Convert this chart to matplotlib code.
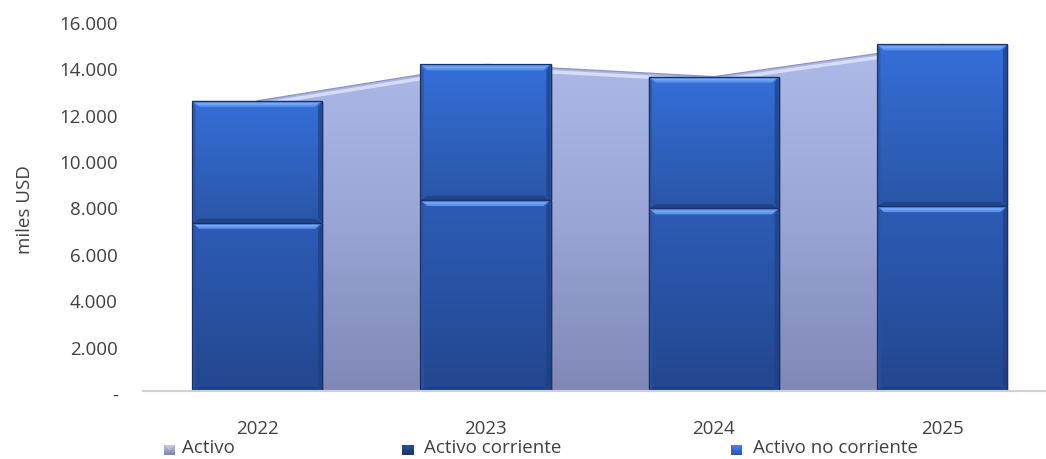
import matplotlib
matplotlib.use("Agg")
import matplotlib.pyplot as plt
import matplotlib.transforms as mtransforms
import numpy as np
from matplotlib.patches import Rectangle, Polygon
from matplotlib.colors import LinearSegmentedColormap

# ---- data ----
years = ["2022", "2023", "2024", "2025"]
activo = [12510, 14080, 13550, 14940]
activo_corriente = [7250, 8230, 7870, 7970]
activo_no_corriente = [5260, 5850, 5680, 6970]
yticks = [0, 2000, 4000, 6000, 8000, 10000, 12000, 14000, 16000]
ytick_labels = ["-", "2.000", "4.000", "6.000", "8.000", "10.000", "12.000", "14.000", "16.000"]
legend_labels = ["Activo", "Activo corriente", "Activo no corriente"]
ylabel = "miles USD"

plt.rcParams['font.family'] = ['Open Sans', 'DejaVu Sans']
TXT = "#404040"
FS = 13.5

W, H = 1046, 459
fig = plt.figure(figsize=(W / 100, H / 100), dpi=100)
ax = fig.add_axes([143 / W, (H - 391) / H, 903 / W, (391 - 19.8) / H])
ax.set_xlim(-0.5, 3.455)
ax.set_ylim(0, 16000)

x = np.arange(len(years))
px_x = (3.455 + 0.5) / 903.0
px_y = 16000 / (391 - 19.8)

# ---- area (Activo) with gradient ----
area_cmap = LinearSegmentedColormap.from_list("area", ["#8088b6", "#9aa6d6", "#aebbe9"])
poly = ax.fill_between(x, 0, activo, color="none", lw=0, zorder=1)
grad = np.linspace(0, 1, 256).reshape(-1, 1)
im = ax.imshow(grad, extent=[x[0], x[-1], 0, max(activo)], origin="lower",
               cmap=area_cmap, aspect="auto", zorder=1, vmin=0, vmax=1)
im.set_clip_path(poly.get_paths()[0], transform=ax.transData)
ax.plot(x, np.array(activo) - 4 * px_y, color="#e8eeff", lw=2.5, alpha=0.7, zorder=1.5,
        solid_capstyle="butt")
ax.plot(x, activo, color="#9095b8", lw=0.9, zorder=1.6)

# ---- bars ----
width = 0.57
seg_cmap_bottom = LinearSegmentedColormap.from_list("b", ["#23478f", "#2d5cb6"])
seg_cmap_top = LinearSegmentedColormap.from_list("t", ["#2a56a8", "#356fd8"])


def draw_segment(xc, y0, y1, cmap):
    x0, x1 = xc - width / 2, xc + width / 2
    sh = Rectangle((x0 + 2 * px_x, y0), width, (y1 - y0) - 1 * px_y,
                   facecolor="#000000", alpha=0.18, lw=0, zorder=2)
    ax.add_patch(sh)
    rect = Rectangle((x0, y0), width, y1 - y0, facecolor="none",
                     edgecolor="#1b3266", lw=0.9, zorder=4)
    ax.add_patch(rect)
    img = ax.imshow(grad, extent=[x0, x1, y0, y1], origin="lower", cmap=cmap,
                    aspect="auto", zorder=3, vmin=0, vmax=1)
    img.set_clip_path(rect)
    bx, by = 7 * px_x, 6 * px_y
    top = Polygon([(x0, y1), (x1, y1), (x1 - bx, y1 - by), (x0 + bx, y1 - by)],
                  closed=True, facecolor="#5d92ec", edgecolor="none", zorder=3.5)
    ax.add_patch(top)
    hl = Polygon([(x0 + bx * 0.5, y1 - by * 0.35), (x1 - bx * 0.5, y1 - by * 0.35),
                  (x1 - bx * 0.8, y1 - by * 0.65), (x0 + bx * 0.8, y1 - by * 0.65)],
                 closed=True, facecolor="#7fb0ff", edgecolor="none", alpha=0.7, zorder=3.6)
    ax.add_patch(hl)
    bot = Polygon([(x0, y0), (x1, y0), (x1 - bx, y0 + by * 0.7), (x0 + bx, y0 + by * 0.7)],
                  closed=True, facecolor="#1f3f80", edgecolor="none", alpha=0.8, zorder=3.5)
    ax.add_patch(bot)
    right = Polygon([(x1, y0), (x1, y1), (x1 - bx * 0.6, y1 - by), (x1 - bx * 0.6, y0 + by * 0.7)],
                    closed=True, facecolor="#1f3f80", edgecolor="none", alpha=0.7, zorder=3.5)
    ax.add_patch(right)
    left = Polygon([(x0, y0), (x0, y1), (x0 + bx * 0.5, y1 - by), (x0 + bx * 0.5, y0 + by * 0.7)],
                   closed=True, facecolor="#2a55a5", edgecolor="none", alpha=0.7, zorder=3.5)
    ax.add_patch(left)


for i in range(len(years)):
    c = activo_corriente[i]
    n = activo_no_corriente[i]
    draw_segment(x[i], 0, c, seg_cmap_bottom)
    draw_segment(x[i], c, c + n, seg_cmap_top)

# ---- axes styling ----
for s in ["top", "right", "left"]:
    ax.spines[s].set_visible(False)
ax.spines["bottom"].set_color("#d0d0d0")
ax.spines["bottom"].set_linewidth(1.5)
ax.spines["bottom"].set_zorder(5)
ax.set_xticks(x)
ax.set_xticklabels(years, fontsize=FS, color=TXT)
ax.set_yticks(yticks)
ax.set_yticklabels(ytick_labels, fontsize=FS, color=TXT)
ax.tick_params(axis="both", length=0)
ax.tick_params(axis="y", pad=18)
ax.tick_params(axis="x", pad=21)
shift = mtransforms.ScaledTranslation(0, -3 / 100, fig.dpi_scale_trans)
for lab in ax.get_yticklabels():
    lab.set_transform(lab.get_transform() + shift)
fig.text(25 / W, 1 - 210 / H, ylabel, rotation=90, ha="center", va="center",
         fontsize=FS, color=TXT)

# ---- legend (manual) ----
leg_colors = [("#c9cce0", "#7f86ad"), ("#2a4f9a", "#173670"), ("#4c86e6", "#2456b8")]
leg_x = [164, 402, 731]
leg_y = 448
for (ctop, cbot), lx, lab in zip(leg_colors, leg_x, legend_labels):
    lax = fig.add_axes([lx / W, 1 - (leg_y + 2 + 5.5) / H, 11 / W, 11 / H])
    lax.imshow(grad, cmap=LinearSegmentedColormap.from_list("l", [cbot, ctop]),
               origin="lower", aspect="auto", extent=[0, 1, 0, 1])
    lax.add_patch(Polygon([(0, 1), (1, 1), (0.5, 0.45)], closed=True,
                          facecolor=ctop, alpha=0.6, lw=0))
    lax.set_axis_off()
    off = 14 if lab == "Activo" else 18
    fig.text((lx + off + 4) / W, 1 - leg_y / H, lab, ha="left", va="center",
             fontsize=FS, color=TXT)

fig.savefig("out.png", dpi=100)
